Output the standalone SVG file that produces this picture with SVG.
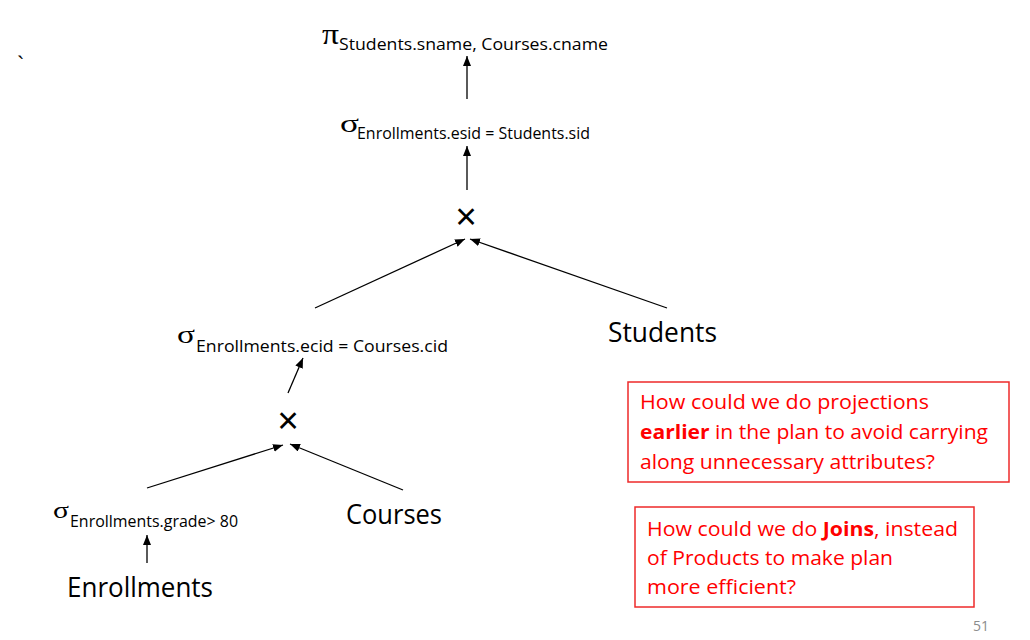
<svg xmlns="http://www.w3.org/2000/svg" width="1030" height="640" viewBox="0 0 1030 640">
  <style>
    .lbl { font-family: "Open Sans", "Liberation Sans", sans-serif; fill: #000; }
    .big { font-size: 26.5px; }
    .sub { font-size: 15.5px; }
    .greek { font-family: "Liberation Serif", "DejaVu Serif", serif; fill: #000; }
    .op { font-family: "Liberation Sans", sans-serif; font-size: 37px; fill: #000; text-anchor: middle; }
    .note { font-family: "Open Sans", "Liberation Sans", sans-serif; font-size: 20px; fill: #ff0000; }
    .box { fill: #fff; stroke: #ee2a2a; stroke-width: 1.5; }
    .edge { stroke: #000; stroke-width: 1.3; fill: none; marker-end: url(#head); }
  </style>
  <defs>
    <marker id="head" markerUnits="userSpaceOnUse" markerWidth="11" markerHeight="9" refX="10" refY="4" orient="auto">
      <path d="M0,0 L10,4 L0,8 z" fill="#000"/>
    </marker>
  </defs>
  <rect width="1030" height="640" fill="#fff"/>

  <text x="17" y="72" font-family="Liberation Sans, sans-serif" font-size="22" fill="#000">`</text>

  <g id="project">
    <text x="322" y="44" class="greek" font-size="30" textLength="17" lengthAdjust="spacingAndGlyphs">π</text>
    <text x="339" y="50" class="lbl sub" textLength="269" lengthAdjust="spacingAndGlyphs">Students.sname, Courses.cname</text>
  </g>

  <g id="select-esid">
    <text x="340" y="132" class="greek" font-size="25" textLength="19" lengthAdjust="spacingAndGlyphs">σ</text>
    <text x="357" y="139" class="lbl sub" textLength="233" lengthAdjust="spacingAndGlyphs">Enrollments.esid = Students.sid</text>
  </g>

  <g id="product-top">
    <text x="466" y="229" class="op">×</text>
  </g>

  <g id="students">
    <text x="608" y="342" class="lbl big" textLength="109" lengthAdjust="spacingAndGlyphs">Students</text>
  </g>

  <g id="select-ecid">
    <text x="177" y="343" class="greek" font-size="25" textLength="18" lengthAdjust="spacingAndGlyphs">σ</text>
    <text x="196" y="352" class="lbl sub" textLength="252" lengthAdjust="spacingAndGlyphs">Enrollments.ecid = Courses.cid</text>
  </g>

  <g id="product-bottom">
    <text x="288" y="433" class="op">×</text>
  </g>

  <g id="select-grade">
    <text x="53" y="518" class="greek" font-size="24" textLength="16" lengthAdjust="spacingAndGlyphs">σ</text>
    <text x="70" y="527" class="lbl sub" textLength="168" lengthAdjust="spacingAndGlyphs">Enrollments.grade&gt; 80</text>
  </g>

  <g id="courses">
    <text x="346" y="524" class="lbl big" textLength="96" lengthAdjust="spacingAndGlyphs">Courses</text>
  </g>

  <g id="enrollments">
    <text x="67" y="597" class="lbl big" textLength="146" lengthAdjust="spacingAndGlyphs">Enrollments</text>
  </g>

  <g id="connectors">
    <line class="edge" x1="467" y1="99" x2="467" y2="56"/>
    <line class="edge" x1="467" y1="190" x2="467" y2="146"/>
    <line class="edge" x1="315" y1="308" x2="465" y2="239"/>
    <line class="edge" x1="667" y1="308" x2="470" y2="239"/>
    <line class="edge" x1="288" y1="393" x2="303" y2="358"/>
    <line class="edge" x1="147" y1="488" x2="283" y2="445"/>
    <line class="edge" x1="403" y1="490" x2="290" y2="444"/>
    <line class="edge" x1="147" y1="563" x2="147" y2="535"/>
  </g>

  <g id="note-projections">
    <rect class="box" x="628" y="382" width="381" height="100"/>
    <text x="640" y="409" class="note" textLength="289" lengthAdjust="spacingAndGlyphs">How could we do projections</text>
    <text x="640" y="439" class="note" textLength="348" lengthAdjust="spacingAndGlyphs"><tspan font-weight="bold">earlier</tspan> in the plan to avoid carrying</text>
    <text x="640" y="469" class="note" textLength="295" lengthAdjust="spacingAndGlyphs">along unnecessary attributes?</text>
  </g>

  <g id="note-joins">
    <rect class="box" x="635" y="507" width="339" height="100"/>
    <text x="647" y="536" class="note" textLength="311" lengthAdjust="spacingAndGlyphs">How could we do <tspan font-weight="bold">Joins</tspan>, instead</text>
    <text x="647" y="565" class="note" textLength="246" lengthAdjust="spacingAndGlyphs">of Products to make plan</text>
    <text x="647" y="594" class="note" textLength="149" lengthAdjust="spacingAndGlyphs">more efficient?</text>
  </g>

  <text x="973" y="631" font-family="Open Sans, Liberation Sans, sans-serif" font-size="14" fill="#8c8c8c">51</text>
</svg>
